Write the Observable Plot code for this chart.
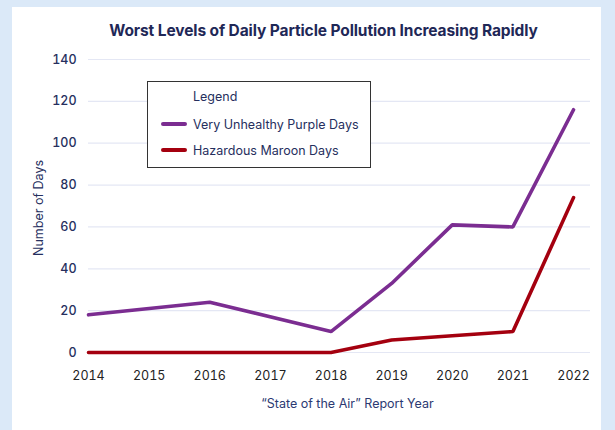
<!DOCTYPE html>
<html>
<head>
<meta charset="utf-8">
<script src="https://cdn.jsdelivr.net/npm/d3@7"></script>
<script src="https://cdn.jsdelivr.net/npm/@observablehq/plot@0.6"></script>
<style>
  html, body { margin: 0; padding: 0; }
  body { width: 615px; height: 430px; background: #dbe9f8; position: relative; overflow: hidden; font-family: Inter, "Liberation Sans", sans-serif; }
  #panel { position: absolute; left: 12px; top: 7px; width: 589px; height: 440px; background: #fff; }
  #title { position: absolute; left: 0; top: 14px; width: 100%; text-align: center; padding-left: 34px; box-sizing: border-box;
           font-size: 15.5px; font-weight: 700; color: #1f2857; letter-spacing: -0.1px; }
  #chart { position: absolute; left: 0; top: 38px; }
  #legend { position: absolute; left: 135px; top: 74px; width: 224px; height: 87px; border: 1.5px solid #333; background: #fff;
            box-sizing: border-box; font-size: 12.5px; color: #262f5e; }
  #legend .hd { position: absolute; left: 45px; top: 7px; }
  #legend .row { position: absolute; left: 13px; height: 16px; display: flex; align-items: center; }
  #legend .sw { width: 26px; height: 4px; border-radius: 2px; margin-right: 6px; }
</style>
</head>
<body>
<div id="panel">
  <div id="title">Worst Levels of Daily Particle Pollution Increasing Rapidly</div>
  <div id="chart"></div>
  <div id="legend"></div>
</div>
<script>
const years = [2014, 2016, 2018, 2019, 2020, 2021, 2022];
const purpleDays = [18, 24, 10, 33, 61, 60, 116];
const maroonDays = [0, 0, 0, 6, 8, 10, 74];
const xTicks = [2014, 2015, 2016, 2017, 2018, 2019, 2020, 2021, 2022];
const yTicks = [0, 20, 40, 60, 80, 100, 120, 140];
const seriesNames = ["Very Unhealthy Purple Days", "Hazardous Maroon Days"];
const seriesColors = ["#7b2d91", "#a4000f"];

const data = [
  ...years.map((y, i) => ({year: y, value: purpleDays[i], series: seriesNames[0]})),
  ...years.map((y, i) => ({year: y, value: maroonDays[i], series: seriesNames[1]}))
];

const W = 589, H = 392;
const chart = Plot.plot({
  width: W,
  height: H,
  marginLeft: 76,
  marginRight: 11,
  marginTop: 14,
  marginBottom: 85,
  style: {fontFamily: "Inter, 'Liberation Sans', sans-serif", fontSize: "12.5px", background: "transparent"},
  x: {domain: [2014, 2022.28], ticks: xTicks, tickFormat: d => String(d), tickSize: 0, tickPadding: 19, label: null},
  y: {domain: [0, 140], ticks: yTicks, tickSize: 0, tickPadding: 12, label: null},
  color: {domain: seriesNames, range: seriesColors},
  marks: [
    Plot.ruleY(yTicks, {stroke: "#e4e7f4", strokeWidth: 1.2}),
    Plot.axisX({ticks: xTicks, tickFormat: d => String(d), tickSize: 0, tickPadding: 19, fill: "#222", fontSize: 12.5}),
    Plot.axisY({ticks: yTicks, tickSize: 0, tickPadding: 12, fill: "#262f5e", fontSize: 12.5, fontWeight: 500}),
    Plot.line(data, {x: "year", y: "value", z: "series", stroke: "series", strokeWidth: 3.6, strokeLinecap: "round", strokeLinejoin: "miter"}),
    Plot.text(["\u201cState of the Air\u201d Report Year"], {frameAnchor: "bottom", dx: 8, dy: 55, fill: "#2c3a72", fontSize: 12.5}),
    Plot.text(["Number of Days"], {frameAnchor: "left", textAnchor: "middle", dx: -50, dy: 2, rotate: -90, fill: "#262f5e", fontSize: 12.5})
  ]
});
document.getElementById("chart").appendChild(chart);

const legend = document.getElementById("legend");
const hd = document.createElement("div");
hd.className = "hd"; hd.textContent = "Legend";
legend.appendChild(hd);
seriesNames.forEach((n, i) => {
  const row = document.createElement("div");
  row.className = "row";
  row.style.top = (34 + i * 26) + "px";
  const sw = document.createElement("div");
  sw.className = "sw"; sw.style.background = seriesColors[i];
  const t = document.createElement("span"); t.textContent = n;
  row.appendChild(sw); row.appendChild(t);
  legend.appendChild(row);
});
</script>
</body>
</html>
